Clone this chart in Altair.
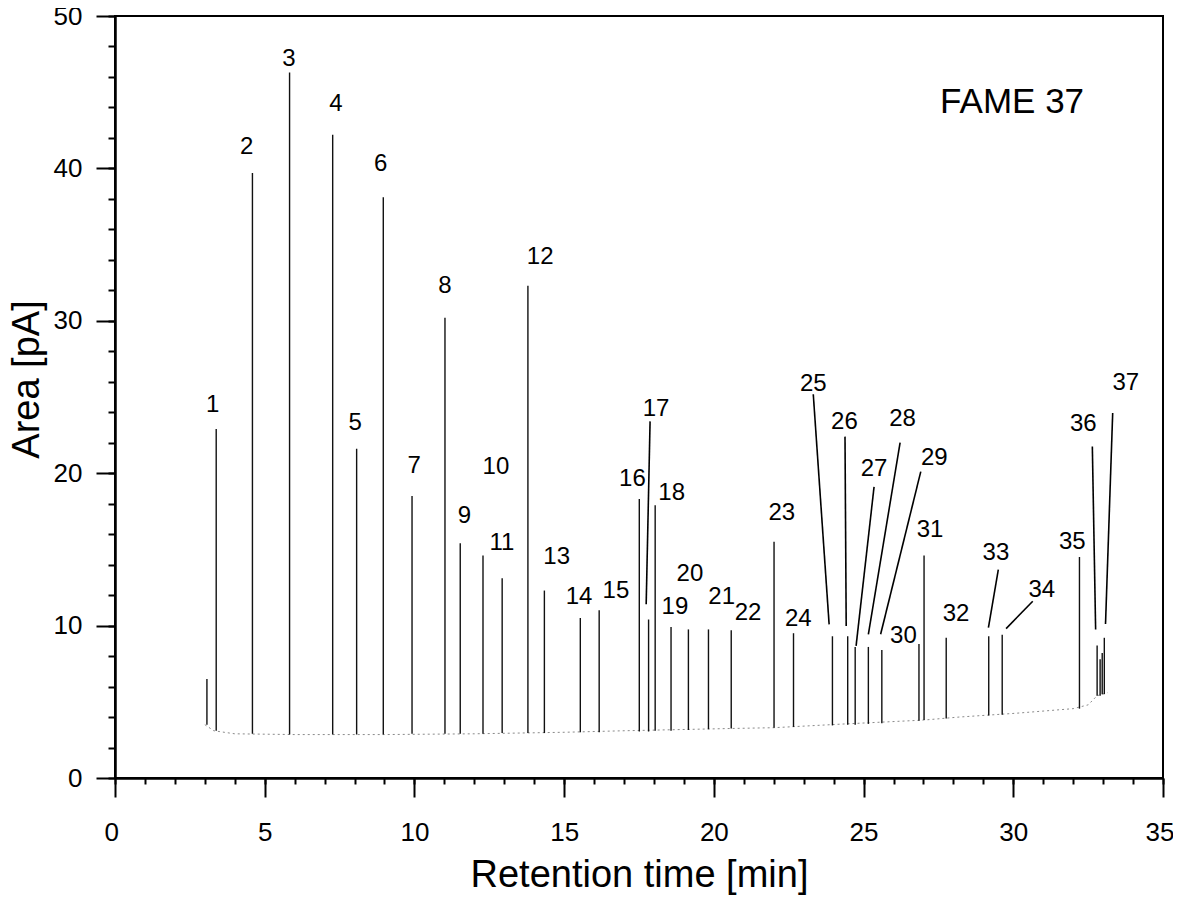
import altair as alt
import pandas as pd

# ---------------- data ----------------
peak_rt = [3.07, 3.38, 4.59, 5.83, 7.27, 8.07, 8.96, 9.92, 11.02, 11.53,
           12.29, 12.93, 13.79, 14.34, 15.54, 16.17, 17.51, 17.82, 18.04, 18.57,
           19.15, 19.82, 20.58, 22.01, 22.66, 23.96, 24.47, 24.72, 25.16, 25.61,
           26.85, 27.02, 27.76, 29.18, 29.63, 32.21, 32.80, 32.90, 32.97, 33.04]
peak_top = [6.5, 22.9, 39.7, 46.3, 42.2, 21.6, 38.1, 18.5, 30.2, 15.4,
            14.6, 13.1, 32.3, 12.3, 10.5, 11.0, 18.3, 10.4, 17.9, 9.9,
            9.75, 9.75, 9.7, 15.5, 9.5, 9.3, 9.3, 8.6, 8.6, 8.4,
            8.8, 14.6, 9.2, 9.3, 9.4, 14.5, 8.7, 7.8, 8.2, 9.2]
peak_base = [3.5, 3.1, 2.9, 2.85, 2.85, 2.85, 2.85, 2.9, 2.9, 2.9,
             2.9, 2.95, 2.95, 2.95, 3.0, 3.0, 3.05, 3.05, 3.1, 3.1,
             3.15, 3.2, 3.25, 3.3, 3.35, 3.45, 3.5, 3.5, 3.55, 3.6,
             3.75, 3.8, 3.9, 4.1, 4.15, 4.55, 5.4, 5.4, 5.5, 5.5]

baseline_x = [3.0, 3.3, 4.0, 6.0, 9.0, 12.0, 15.0, 17.0, 20.6, 22.0,
              24.4, 27.0, 28.2, 30.1, 32.0, 32.5, 32.8, 33.15]
baseline_y = [3.5, 3.1, 2.9, 2.85, 2.85, 2.9, 3.0, 3.1, 3.25, 3.3,
              3.55, 3.8, 4.0, 4.25, 4.55, 4.8, 5.4, 5.6]

label_text = ["1", "2", "3", "4", "5", "6", "7", "8", "9", "10",
              "11", "12", "13", "14", "15", "16", "17", "18", "19", "20",
              "21", "22", "23", "24", "25", "26", "27", "28", "29", "30",
              "31", "32", "33", "34", "35", "36", "37"]
label_x = [3.26, 4.40, 5.81, 7.38, 8.02, 8.87, 9.99, 11.02, 11.67, 12.72,
           12.92, 14.2, 14.75, 15.5, 16.73, 17.28, 18.07, 18.59, 18.7, 19.2,
           20.26, 21.14, 22.27, 22.82, 23.32, 24.36, 25.35, 26.3, 27.36, 26.33,
           27.22, 28.09, 29.42, 30.95, 31.97, 32.34, 33.76]
label_y = [24.47, 41.4, 47.2, 44.2, 23.3, 40.3, 20.5, 32.3, 17.2, 20.4,
           15.4, 34.2, 14.5, 11.9, 12.3, 19.6, 24.2, 18.7, 11.2, 13.4,
           11.9, 10.8, 17.36, 10.41, 25.83, 23.34, 20.29, 23.55, 20.99, 9.32,
           16.28, 10.74, 14.75, 12.36, 15.5, 23.2, 25.9]

lead_x1 = [17.74, 23.85, 24.42, 24.75, 25.16, 25.57, 29.17, 29.76, 32.75, 33.08]
lead_y1 = [11.4, 10.08, 9.97, 8.67, 9.43, 9.43, 9.86, 9.8, 9.75, 10.1]
lead_x2 = [17.87, 23.32, 24.38, 25.35, 26.22, 26.91, 29.5, 30.65, 32.64, 33.32]
lead_y2 = [23.4, 25.18, 22.4, 19.1, 22.0, 20.1, 13.67, 11.6, 21.75, 23.95]

note_text = ["FAME 37"]
note_x = [29.96]
note_y = [44.36]

x_major = [0, 5, 10, 15, 20, 25, 30, 35]
x_minor = list(range(0, 36))
y_major = [0, 10, 20, 30, 40, 50]
y_minor = list(range(0, 51, 2))

# ---------------- tables ----------------
peaks_df = pd.DataFrame({"rt": peak_rt, "top": peak_top, "base": peak_base})
base_df = pd.DataFrame({"bx": baseline_x, "by": baseline_y})
lab_df = pd.DataFrame({"lab": label_text, "lx": label_x, "ly": label_y})
lead_df = pd.DataFrame({"x1": lead_x1, "y1": lead_y1, "x2": lead_x2, "y2": lead_y2})
note_df = pd.DataFrame({"t": note_text, "nx": note_x, "ny": note_y})

W, H = 1048, 762
FONT = "Liberation Sans"
xs = alt.Scale(domain=[0, 35], nice=False, zero=False)
ys = alt.Scale(domain=[0, 50], nice=False, zero=False)

common = dict(domainColor="black", domainWidth=2, tickColor="black", tickWidth=2,
              grid=False, labelFont=FONT, labelColor="black", labelOverlap=False)

x_minor_axis = alt.Axis(orient="bottom", values=x_minor, tickSize=6, labels=False,
                        title=None, **common)
y_minor_axis = alt.Axis(orient="left", values=y_minor, tickSize=7, labels=False,
                        title=None, **common)
x_major_axis = alt.Axis(orient="bottom", values=x_major, tickSize=19, labelFontSize=26,
                        labelPadding=22, format="d",
                        labelFlush=True, labelFlushOffset=11,
                        title="Retention time [min]", titleFont=FONT, titleFontSize=38,
                        titleFontWeight="normal", titleColor="black",
                        titleX=W / 2, titleY=108, titleBaseline="alphabetic",
                        **common)
y_major_axis = alt.Axis(orient="left", values=y_major, tickSize=19, labelFontSize=26,
                        labelPadding=14, format="d", labelFlush=False,
                        title="Area [pA]", titleFont=FONT, titleFontSize=38,
                        titleFontWeight="normal", titleColor="black",
                        titleX=-77, titleY=363, titleBaseline="alphabetic",
                        **common)

baseline = alt.Chart(base_df).mark_line(
    color="#8a8a8a", strokeWidth=1, strokeDash=[2, 3]
).encode(
    x=alt.X("bx:Q", scale=xs, axis=x_minor_axis),
    y=alt.Y("by:Q", scale=ys, axis=y_minor_axis),
)

peaks = alt.Chart(peaks_df).mark_rule(color="#111111", strokeWidth=1.4).encode(
    x=alt.X("rt:Q", scale=xs, axis=x_major_axis),
    y=alt.Y("base:Q", scale=ys, axis=y_major_axis),
    y2="top:Q",
)

leaders = alt.Chart(lead_df).mark_rule(color="black", strokeWidth=1.6).encode(
    x=alt.X("x1:Q", scale=xs, axis=None),
    y=alt.Y("y1:Q", scale=ys, axis=None),
    x2="x2:Q",
    y2="y2:Q",
)

labels = alt.Chart(lab_df).mark_text(
    font=FONT, fontSize=24, color="black", align="center", baseline="middle"
).encode(
    x=alt.X("lx:Q", scale=xs, axis=None),
    y=alt.Y("ly:Q", scale=ys, axis=None),
    text="lab:N",
)

note = alt.Chart(note_df).mark_text(
    font=FONT, fontSize=35, color="black", align="center", baseline="middle"
).encode(
    x=alt.X("nx:Q", scale=xs, axis=None),
    y=alt.Y("ny:Q", scale=ys, axis=None),
    text="t:N",
)

chart = alt.layer(baseline, peaks, leaders, labels, note).resolve_axis(
    x="independent", y="independent"
).properties(
    width=W, height=H,
    autosize=alt.AutoSizeParams(type="none"),
    padding={"left": 107, "top": 8, "right": 10, "bottom": 122},
    background="white",
).configure_view(stroke="black", strokeWidth=2)

chart.save("out.html", embed_options={"renderer": "svg", "actions": False})
